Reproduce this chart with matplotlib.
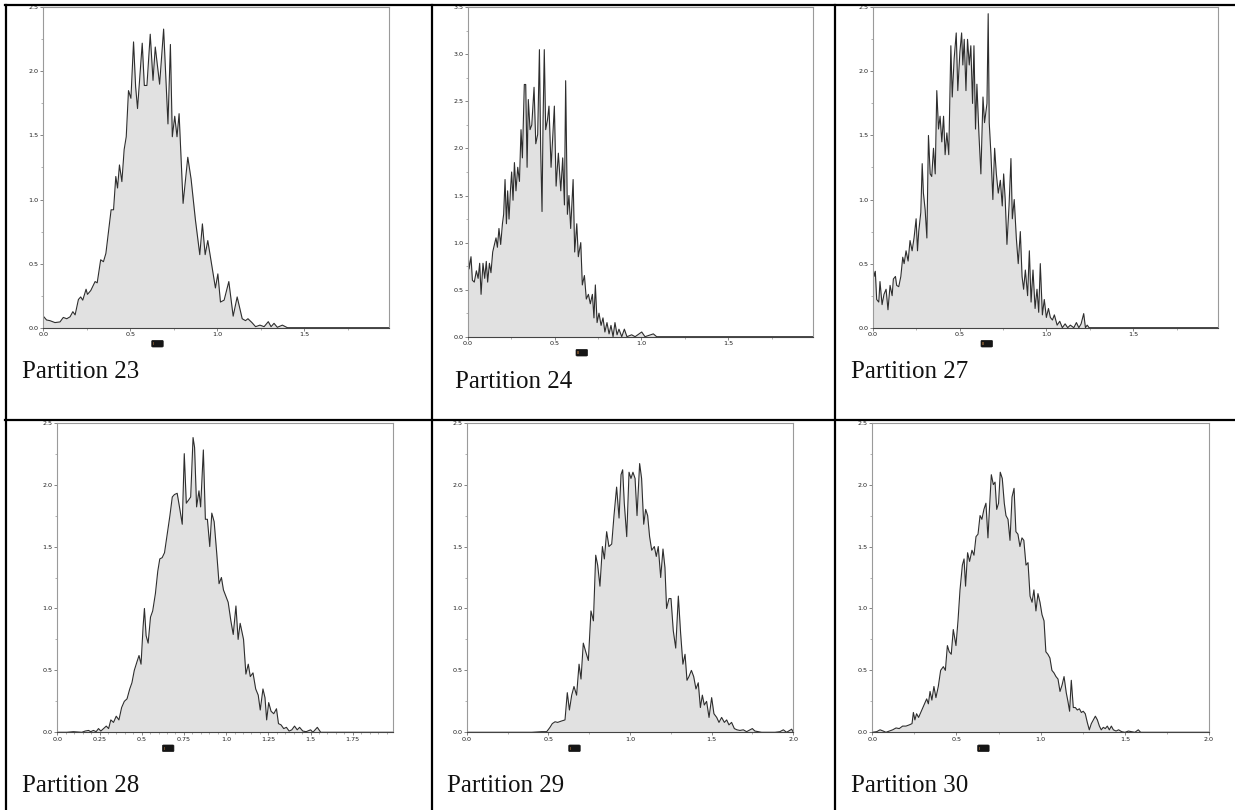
import matplotlib
matplotlib.use("Agg")
import matplotlib.pyplot as plt
from matplotlib.ticker import MultipleLocator, FormatStrFormatter
from matplotlib.lines import Line2D
from matplotlib.patches import FancyBboxPatch

# ---------------- data ----------------
titles = ["Partition 23", "Partition 24", "Partition 27",
          "Partition 28", "Partition 29", "Partition 30"]

p23_x = [0.0, 0.019, 0.038, 0.067, 0.096, 0.115, 0.135, 0.154, 0.17, 0.183, 0.202, 0.215, 0.227,
         0.246, 0.254, 0.273, 0.298, 0.31, 0.33, 0.346, 0.36, 0.375, 0.39, 0.404, 0.417, 0.427,
         0.438, 0.452, 0.465, 0.477, 0.49, 0.504, 0.519, 0.531, 0.542, 0.569, 0.581, 0.596, 0.615,
         0.631, 0.644, 0.669, 0.692, 0.717, 0.731, 0.742, 0.756, 0.769, 0.781, 0.804, 0.831, 0.85,
         0.875, 0.90, 0.915, 0.931, 0.946, 0.99, 1.004, 1.019, 1.04, 1.067, 1.092, 1.115, 1.144,
         1.163, 1.177, 1.2, 1.221, 1.246, 1.27, 1.294, 1.31, 1.327, 1.346, 1.375, 1.404, 1.44, 1.99]
p23_y = [0.09, 0.06, 0.055, 0.04, 0.045, 0.08, 0.07, 0.085, 0.125, 0.10, 0.22, 0.24, 0.215,
         0.30, 0.26, 0.29, 0.36, 0.35, 0.53, 0.515, 0.58, 0.75, 0.92, 0.92, 1.18, 1.09,
         1.27, 1.14, 1.39, 1.49, 1.85, 1.79, 2.23, 1.88, 1.71, 2.22, 1.89, 1.89, 2.29,
         1.93, 2.19, 1.90, 2.33, 1.59, 2.21, 1.49, 1.65, 1.49, 1.67, 0.97, 1.33, 1.16,
         0.84, 0.57, 0.81, 0.57, 0.68, 0.31, 0.42, 0.20, 0.215, 0.36, 0.09, 0.24, 0.07,
         0.055, 0.07, 0.04, 0.008, 0.02, 0.008, 0.047, 0.008, 0.034, 0.003, 0.02, 0.0, 0.0, 0.0]

p24_x = [0.0, 0.008, 0.019, 0.027, 0.038, 0.05, 0.06, 0.069, 0.077, 0.088, 0.098, 0.107, 0.115,
         0.125, 0.134, 0.144, 0.154, 0.163, 0.171, 0.18, 0.19, 0.2, 0.207, 0.215, 0.223, 0.23,
         0.238, 0.246, 0.253, 0.261, 0.269, 0.278, 0.288, 0.298, 0.307, 0.315, 0.326, 0.334,
         0.342, 0.349, 0.359, 0.369, 0.382, 0.392, 0.403, 0.413, 0.42, 0.428, 0.434, 0.441,
         0.449, 0.459, 0.468, 0.48, 0.489, 0.499, 0.509, 0.522, 0.536, 0.547, 0.557, 0.564,
         0.574, 0.583, 0.593, 0.607, 0.616, 0.628, 0.637, 0.651, 0.66, 0.672, 0.683, 0.695,
         0.706, 0.718, 0.727, 0.735, 0.745, 0.756, 0.768, 0.779, 0.79, 0.802, 0.814, 0.825,
         0.837, 0.848, 0.86, 0.871, 0.887, 0.902, 0.917, 0.944, 0.964, 1.002, 1.021, 1.069,
         1.088, 1.99]
p24_y = [0.98, 0.72, 0.85, 0.60, 0.58, 0.70, 0.62, 0.78, 0.45, 0.78, 0.62, 0.80, 0.58,
         0.78, 0.68, 0.90, 0.98, 1.05, 0.95, 1.15, 0.98, 1.20, 1.30, 1.67, 1.20, 1.55,
         1.25, 1.55, 1.75, 1.45, 1.85, 1.55, 1.80, 1.65, 2.20, 1.90, 2.68, 2.68,
         1.80, 2.52, 2.20, 2.25, 2.65, 2.05, 2.15, 3.05, 2.00, 1.33, 2.30, 3.05,
         2.20, 2.30, 2.45, 1.80, 2.10, 2.45, 1.60, 1.95, 1.55, 1.90, 1.40, 2.72,
         1.30, 1.50, 1.15, 1.67, 0.90, 1.20, 0.85, 1.00, 0.55, 0.65, 0.40, 0.45,
         0.35, 0.45, 0.20, 0.55, 0.15, 0.25, 0.12, 0.20, 0.05, 0.15, 0.03, 0.12,
         0.0, 0.15, 0.02, 0.08, 0.0, 0.08, 0.0, 0.02, 0.0, 0.05, 0.0, 0.03,
         0.0, 0.0]

p27_x = [0.0, 0.008, 0.015, 0.023, 0.035, 0.042, 0.054, 0.065, 0.077, 0.088, 0.1, 0.112, 0.119,
         0.131, 0.138, 0.15, 0.162, 0.173, 0.181, 0.192, 0.204, 0.215, 0.227, 0.238, 0.25, 0.258,
         0.265, 0.277, 0.285, 0.292, 0.302, 0.312, 0.321, 0.331, 0.34, 0.35, 0.36, 0.369, 0.379,
         0.388, 0.398, 0.408, 0.417, 0.427, 0.438, 0.45, 0.458, 0.469, 0.481, 0.49, 0.502, 0.512,
         0.519, 0.527, 0.537, 0.546, 0.556, 0.565, 0.575, 0.583, 0.592, 0.6, 0.612, 0.623, 0.635,
         0.644, 0.658, 0.665, 0.671, 0.681, 0.692, 0.702, 0.712, 0.723, 0.735, 0.746, 0.754,
         0.763, 0.773, 0.785, 0.796, 0.804, 0.815, 0.827, 0.838, 0.85, 0.86, 0.869, 0.879, 0.892,
         0.902, 0.912, 0.923, 0.935, 0.946, 0.956, 0.965, 0.977, 0.988, 1.0, 1.012, 1.023, 1.035,
         1.046, 1.062, 1.077, 1.092, 1.108, 1.123, 1.138, 1.158, 1.173, 1.187, 1.2, 1.215, 1.225,
         1.235, 1.246, 1.99]
p27_y = [0.50, 0.40, 0.44, 0.22, 0.20, 0.36, 0.18, 0.26, 0.30, 0.14, 0.33, 0.25, 0.38,
         0.40, 0.33, 0.32, 0.40, 0.55, 0.50, 0.60, 0.52, 0.68, 0.60, 0.70, 0.85, 0.60,
         0.75, 0.90, 1.28, 1.05, 0.92, 0.70, 1.50, 1.20, 1.18, 1.40, 1.20, 1.85, 1.55,
         1.65, 1.45, 1.65, 1.35, 1.52, 1.35, 2.20, 1.80, 2.10, 2.30, 1.85, 2.15, 2.30,
         2.05, 2.25, 1.85, 2.25, 2.05, 2.20, 1.75, 2.20, 1.55, 1.90, 1.50, 1.20, 1.80,
         1.60, 1.75, 2.45, 1.60, 1.35, 1.00, 1.40, 1.20, 1.05, 1.15, 0.95, 1.20,
         1.00, 0.65, 0.95, 1.32, 0.85, 1.00, 0.70, 0.50, 0.75, 0.40, 0.30, 0.45, 0.25,
         0.60, 0.20, 0.45, 0.15, 0.30, 0.12, 0.50, 0.10, 0.22, 0.08, 0.15, 0.08, 0.06,
         0.10, 0.02, 0.05, 0.0, 0.03, 0.0, 0.02, 0.0, 0.04, 0.0, 0.03, 0.11, 0.0,
         0.02, 0.0, 0.0]

p28_x = [0.0, 0.056, 0.095, 0.145, 0.165, 0.185, 0.198, 0.214, 0.23, 0.244, 0.258, 0.274, 0.29,
         0.304, 0.317, 0.333, 0.349, 0.365, 0.381, 0.397, 0.413, 0.429, 0.442, 0.456, 0.472,
         0.484, 0.496, 0.508, 0.516, 0.526, 0.538, 0.552, 0.565, 0.581, 0.595, 0.607, 0.621,
         0.635, 0.651, 0.667, 0.681, 0.694, 0.71, 0.726, 0.74, 0.752, 0.764, 0.78, 0.79, 0.804,
         0.813, 0.825, 0.839, 0.849, 0.865, 0.877, 0.889, 0.903, 0.915, 0.929, 0.944, 0.958,
         0.972, 0.984, 0.998, 1.012, 1.028, 1.042, 1.058, 1.071, 1.083, 1.103, 1.117, 1.131,
         1.143, 1.159, 1.175, 1.19, 1.202, 1.218, 1.23, 1.24, 1.252, 1.266, 1.282, 1.298, 1.31,
         1.325, 1.341, 1.357, 1.373, 1.389, 1.405, 1.421, 1.435, 1.454, 1.474, 1.5, 1.514, 1.54,
         1.56, 1.593, 1.643, 1.99]
p28_y = [0.0, 0.0, 0.005, 0.0, 0.01, 0.015, 0.005, 0.015, 0.005, 0.03, 0.01, 0.03, 0.05,
         0.03, 0.10, 0.08, 0.13, 0.10, 0.20, 0.25, 0.27, 0.35, 0.40, 0.50, 0.57,
         0.62, 0.55, 0.85, 1.00, 0.78, 0.72, 0.93, 0.98, 1.12, 1.30, 1.40, 1.41,
         1.45, 1.60, 1.75, 1.90, 1.92, 1.93, 1.80, 1.68, 2.25, 1.85, 1.88, 1.90, 2.38,
         2.30, 1.82, 1.95, 1.82, 2.28, 1.72, 1.72, 1.50, 1.77, 1.70, 1.45, 1.20,
         1.25, 1.15, 1.10, 1.05, 0.90, 0.79, 1.02, 0.75, 0.88, 0.75, 0.47, 0.55,
         0.45, 0.48, 0.35, 0.30, 0.18, 0.35, 0.28, 0.10, 0.24, 0.17, 0.15, 0.19, 0.07,
         0.06, 0.03, 0.04, 0.01, 0.02, 0.05, 0.02, 0.04, 0.01, 0.005, 0.02, 0.0, 0.04,
         0.0, 0.0, 0.0, 0.0]

p29_x = [0.0, 0.398, 0.459, 0.49, 0.51, 0.524, 0.541, 0.557, 0.578, 0.602, 0.616, 0.629, 0.643,
         0.657, 0.673, 0.688, 0.70, 0.714, 0.729, 0.745, 0.761, 0.776, 0.79, 0.802, 0.816, 0.831,
         0.843, 0.857, 0.871, 0.888, 0.902, 0.918, 0.933, 0.945, 0.955, 0.965, 0.98, 0.994,
         1.006, 1.018, 1.031, 1.043, 1.059, 1.071, 1.084, 1.096, 1.108, 1.12, 1.133, 1.149,
         1.161, 1.173, 1.188, 1.202, 1.214, 1.224, 1.239, 1.251, 1.265, 1.28, 1.296, 1.31,
         1.324, 1.337, 1.349, 1.361, 1.376, 1.39, 1.404, 1.418, 1.431, 1.443, 1.455, 1.469,
         1.484, 1.5, 1.514, 1.531, 1.545, 1.561, 1.578, 1.592, 1.606, 1.622, 1.639, 1.655,
         1.673, 1.694, 1.714, 1.735, 1.749, 1.765, 1.786, 1.806, 1.888, 1.918, 1.939, 1.959,
         1.99, 2.0]
p29_y = [0.0, 0.0, 0.005, 0.005, 0.04, 0.07, 0.085, 0.08, 0.09, 0.10, 0.32, 0.18, 0.30,
         0.37, 0.30, 0.55, 0.43, 0.72, 0.65, 0.58, 0.98, 0.90, 1.43, 1.35, 1.18, 1.50,
         1.40, 1.62, 1.50, 1.52, 1.75, 1.98, 1.73, 2.08, 2.12, 1.85, 1.58, 2.10,
         2.05, 2.10, 2.05, 1.75, 2.17, 2.05, 1.68, 1.80, 1.75, 1.58, 1.47, 1.50,
         1.42, 1.50, 1.25, 1.48, 1.33, 1.00, 1.08, 1.08, 0.82, 0.68, 1.10, 0.80,
         0.55, 0.63, 0.42, 0.45, 0.50, 0.45, 0.35, 0.40, 0.20, 0.30, 0.22, 0.25,
         0.12, 0.28, 0.15, 0.12, 0.08, 0.12, 0.08, 0.10, 0.06, 0.08, 0.03, 0.02,
         0.015, 0.02, 0.005, 0.02, 0.03, 0.01, 0.005, 0.0, 0.0, 0.005, 0.02, 0.0,
         0.025, 0.0]

p30_x = [0.0, 0.026, 0.046, 0.065, 0.081, 0.101, 0.121, 0.141, 0.16, 0.18, 0.2, 0.22, 0.236,
         0.244, 0.253, 0.263, 0.275, 0.291, 0.307, 0.323, 0.333, 0.343, 0.354, 0.366, 0.378,
         0.392, 0.406, 0.422, 0.434, 0.446, 0.457, 0.469, 0.481, 0.497, 0.509, 0.521, 0.535,
         0.545, 0.554, 0.566, 0.578, 0.592, 0.604, 0.616, 0.628, 0.64, 0.651, 0.663, 0.675,
         0.687, 0.695, 0.707, 0.719, 0.729, 0.739, 0.75, 0.76, 0.772, 0.784, 0.794, 0.806,
         0.818, 0.83, 0.842, 0.853, 0.865, 0.877, 0.889, 0.90, 0.913, 0.925, 0.937, 0.949,
         0.96, 0.972, 0.984, 0.996, 1.008, 1.02, 1.031, 1.043, 1.055, 1.067, 1.079, 1.091,
         1.103, 1.115, 1.127, 1.139, 1.152, 1.162, 1.172, 1.182, 1.194, 1.206, 1.218, 1.23,
         1.242, 1.253, 1.265, 1.277, 1.289, 1.301, 1.313, 1.325, 1.337, 1.349, 1.36, 1.372,
         1.384, 1.396, 1.408, 1.42, 1.432, 1.448, 1.463, 1.481, 1.501, 1.521, 1.54, 1.56,
         1.58, 1.594, 1.65, 2.0]
p30_y = [0.0, 0.005, 0.02, 0.01, 0.0, 0.01, 0.02, 0.035, 0.03, 0.05, 0.05, 0.06, 0.07,
         0.16, 0.10, 0.15, 0.12, 0.17, 0.22, 0.27, 0.23, 0.33, 0.26, 0.37, 0.28,
         0.37, 0.50, 0.53, 0.50, 0.70, 0.65, 0.63, 0.83, 0.70, 0.90, 1.15, 1.35,
         1.40, 1.18, 1.45, 1.38, 1.47, 1.43, 1.58, 1.60, 1.75, 1.72, 1.80, 1.85,
         1.57, 1.78, 2.08, 2.00, 2.02, 1.80, 1.85, 2.10, 2.05, 1.85, 1.75, 1.72,
         1.55, 1.90, 1.97, 1.62, 1.60, 1.50, 1.57, 1.55, 1.35, 1.37, 1.10, 1.05,
         1.15, 0.98, 1.12, 1.05, 0.95, 0.90, 0.65, 0.63, 0.60, 0.50, 0.48, 0.45,
         0.43, 0.33, 0.38, 0.45, 0.32, 0.25, 0.17, 0.42, 0.20, 0.20, 0.18, 0.19,
         0.16, 0.17, 0.15, 0.08, 0.02, 0.07, 0.10, 0.13, 0.10, 0.05, 0.02, 0.04,
         0.03, 0.05, 0.02, 0.05, 0.02, 0.01, 0.02, 0.005, 0.0, 0.01, 0.005, 0.0,
         0.02, 0.0, 0.0, 0.0]

series_x = [p23_x, p24_x, p27_x, p28_x, p29_x, p30_x]
series_y = [p23_y, p24_y, p27_y, p28_y, p29_y, p30_y]
y_max = [2.5, 3.5, 2.5, 2.5, 2.5, 2.5]
x_major = [0.5, 0.5, 0.5, 0.25, 0.5, 0.5]
x_minor = [0.25, 0.25, 0.25, 0.05, 0.25, 0.25]
x_max = [1.99, 1.99, 1.99, 1.99, 2.0, 2.0]

# ---------------- layout (pixels) ----------------
W, H = 1235, 810
fig = plt.figure(figsize=(W / 100, H / 100), dpi=100)
fig.patch.set_facecolor("white")

# left, right, top, bottom in pixels
boxes = [(43.3, 389.3, 7.3, 327.7),
         (467.7, 813.3, 7.3, 336.7),
         (872.7, 1218.3, 7.3, 327.7),
         (57.3, 393.3, 422.7, 732.3),
         (466.7, 793.3, 422.7, 732.3),
         (872.3, 1209.0, 422.7, 732.3)]
title_pos = [(22, 378), (455, 388), (851, 378), (22, 792), (447, 792), (851, 792)]

for i in range(6):
    l, r, t, b = boxes[i]
    ax = fig.add_axes([l / W, 1 - b / H, (r - l) / W, (b - t) / H])
    ax.fill_between(series_x[i], series_y[i], 0, color="#e1e1e1", lw=0, zorder=1)
    ax.plot(series_x[i], series_y[i], color="#2e2e2e", lw=0.8, zorder=2)
    ax.set_xlim(0, x_max[i])
    ax.set_ylim(0, y_max[i])
    ax.xaxis.set_minor_locator(MultipleLocator(x_minor[i]))
    ax.yaxis.set_major_locator(MultipleLocator(0.5))
    ax.yaxis.set_minor_locator(MultipleLocator(0.25))
    if x_major[i] == 0.25:
        ax.set_xticks([0, 0.25, 0.5, 0.75, 1.0, 1.25, 1.5, 1.75])
        ax.set_xticklabels(["0.0", "0.25", "0.5", "0.75", "1.0", "1.25", "1.5", "1.75"])
    else:
        ax.xaxis.set_major_locator(MultipleLocator(x_major[i]))
        ax.xaxis.set_major_formatter(FormatStrFormatter("%.1f"))
    ax.yaxis.set_major_formatter(FormatStrFormatter("%.1f"))
    ax.tick_params(axis="both", which="major", labelsize=4.6, length=2, width=0.5,
                   pad=1.2, colors="#555555", labelcolor="#1e1e1e")
    ax.tick_params(axis="both", which="minor", length=1.2, width=0.4, colors="#777777")
    for s in ["left", "top", "right"]:
        ax.spines[s].set_color("#9a9a9a")
        ax.spines[s].set_linewidth(0.8)
    ax.spines["bottom"].set_color("#444444")
    ax.spines["bottom"].set_linewidth(0.8)
    ax.set_facecolor("white")

    # small icon below the axis
    cx = l + 0.33 * (r - l)
    cy = b + 16
    fig.patches.append(FancyBboxPatch(((cx - 4.5) / W, 1 - (cy + 2.5) / H), 9 / W, 5 / H,
                                      boxstyle="round,pad=0.001", transform=fig.transFigure,
                                      facecolor="#151515", edgecolor="#151515", lw=0.5,
                                      zorder=5))
    fig.patches.append(FancyBboxPatch(((cx - 4.5) / W, 1 - (cy + 1.5) / H), 1.5 / W, 3 / H,
                                      boxstyle="square,pad=0", transform=fig.transFigure,
                                      facecolor="#6b4a2a", edgecolor="none", zorder=6))

    tx, ty = title_pos[i]
    fig.text(tx / W, 1 - ty / H, titles[i], fontsize=18, family="Liberation Serif",
             color="#111111", va="baseline", ha="left")

# ---------------- table grid lines ----------------
lw_tab = 1.6
def hline(y, x0, x1):
    fig.lines.append(Line2D([x0 / W, x1 / W], [1 - y / H, 1 - y / H], transform=fig.transFigure,
                            color="black", lw=lw_tab, zorder=10))
def vline(x, y0, y1):
    fig.lines.append(Line2D([x / W, x / W], [1 - y0 / H, 1 - y1 / H], transform=fig.transFigure,
                            color="black", lw=lw_tab, zorder=10))

hline(5.3, 5, W)
hline(420, 5, W)
vline(6, 4.5, H)
vline(431.8, 4.5, H)
vline(835, 4.5, H)

fig.savefig("out.png", dpi=100, facecolor="white")
